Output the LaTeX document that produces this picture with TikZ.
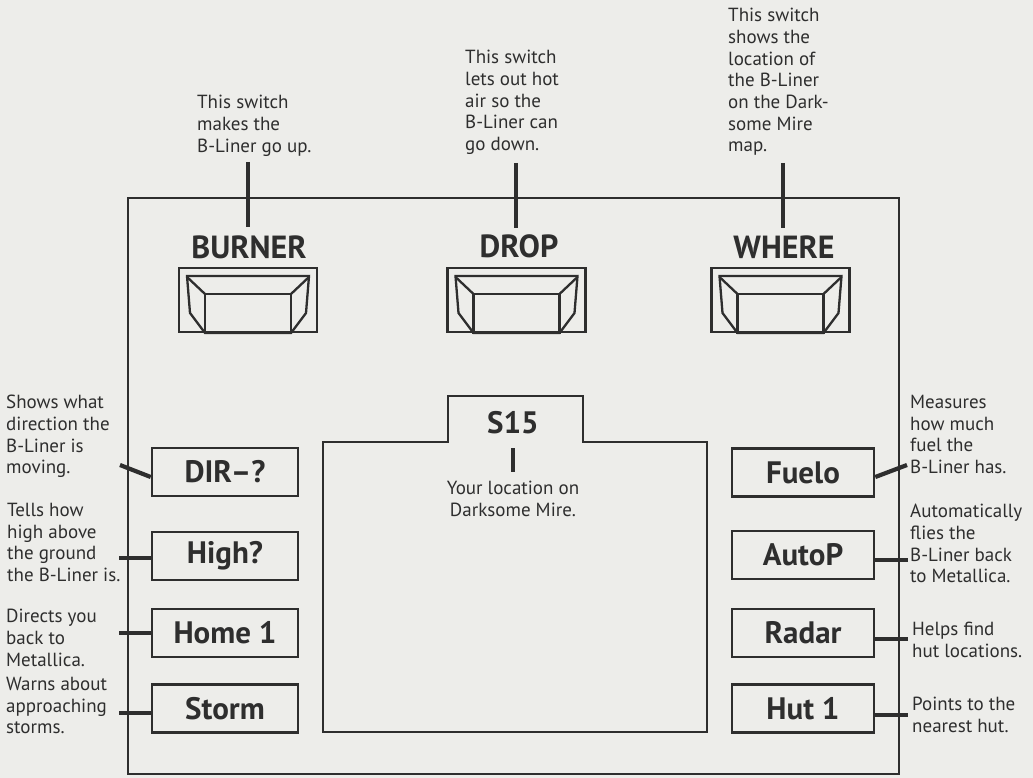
\documentclass[tikz,border=0pt]{standalone}
\usepackage{fontspec}
\setmainfont{PT Sans}
\usetikzlibrary{calc}
\definecolor{ink}{HTML}{2E2E2E}
\definecolor{paper}{HTML}{EDEDEA}
\newcommand{\drawswitch}[2]{%
  \begin{scope}[shift={(#1,268)}]
    \draw[swline] (-69,0) rectangle (69,64);
    \draw[swline] (-61,8) -- (61,8) -- (58,45) -- (43,65) -- (-43,65) -- (-58,45) -- cycle;
    \draw[swline] (-43,26) rectangle (43,65);
    \draw[swline] (-61,9) -- (-43,26);
    \draw[swline] (61,9) -- (43,26);
    \coordinate (#2) at (0,0);
  \end{scope}}
\begin{document}
\begin{tikzpicture}[x=1pt,y=-1pt,
  every node/.style={text=ink, inner sep=0pt},
  desc/.style={anchor=north west, align=left, font=\fontsize{19}{21.7}\selectfont},
  btn/.style={draw=ink, line width=2.6pt, minimum height=48pt, font=\bfseries\fontsize{31}{32}\selectfont},
  swlabel/.style={font=\bfseries\fontsize{32}{32}\selectfont},
  swline/.style={draw=ink, line width=2.3pt, line join=miter},
  conn/.style={draw=ink, line width=4.2pt},
  tick/.style={draw=ink, line width=3.8pt},
  frame/.style={draw=ink, line width=2pt}]
\fill[paper] (0,0) rectangle (1033,778);
\useasboundingbox (0,0) rectangle (1033,778);

% outer panel
\draw[frame] (128,198) rectangle (899,774);

% top switches
\drawswitch{248}{swA}
\drawswitch{516.5}{swB}
\drawswitch{780.5}{swC}
\node[swlabel] (burner) at (249,247) {BURNER};
\node[swlabel] (drop) at (519,246) {DROP};
\node[swlabel] (where) at (784,247) {WHERE};

\node[desc] (tburner) at (197,95) {This switch\\makes the\\B-Liner go up.};
\node[desc] (tdrop) at (465,50) {This switch\\lets out hot\\air so the\\B-Liner can\\go down.};
\node[desc] (twhere) at (728,8) {This switch\\shows the\\location of\\the B-Liner\\on the Dark-\\some Mire\\map.};

\coordinate (ta1) at (248,162); \coordinate (ta2) at (248,227);
\coordinate (tb1) at (516,163); \coordinate (tb2) at (516,228);
\coordinate (tc1) at (783,163); \coordinate (tc2) at (783,228);
\draw[tick] (ta1) -- (ta2);
\draw[tick] (tb1) -- (tb2);
\draw[tick] (tc1) -- (tc2);

% central screen
\draw[ink, line width=2.4pt, line join=miter] (323,442) -- (448,442) -- (448,396) -- (583,396) -- (583,442) -- (707,442) -- (707,732) -- (323,732) -- cycle;
\node[font=\bfseries\fontsize{31}{32}\selectfont] (s15) at (513,423) {S15};
\coordinate (sa) at (513,448); \coordinate (sb) at (513,472);
\draw[tick] (sa) -- (sb);
\node[anchor=north, align=center, font=\fontsize{19}{21.7}\selectfont] (loc) at (513,481) {Your location on\\Darksome Mire.};

% left buttons
\node[btn, minimum width=146pt] (dir) at (225,472) {DIR–?};
\node[btn, minimum width=146pt] (high) at (225,556) {High?};
\node[btn, minimum width=146pt] (home) at (225,633) {Home 1};
\node[btn, minimum width=146pt] (storm) at (225,708.5) {Storm};

% right buttons
\node[btn, minimum width=142pt] (fuel) at (803,472.5) {Fuelo};
\node[btn, minimum width=142pt] (auto) at (803,555) {AutoP};
\node[btn, minimum width=142pt] (radar) at (803,633) {Radar};
\node[btn, minimum width=142pt] (hut) at (803,708.5) {Hut 1};

% left descriptions
\node[desc] (ldir) at (6,395) {Shows what\\direction the\\B-Liner is\\moving.};
\node[desc] (lhigh) at (7,503) {Tells how\\high above\\the ground\\the B-Liner is.};
\node[desc] (lhome) at (6,609) {Directs you\\back to\\Metallica.};
\node[desc] (lstorm) at (6,677) {Warns about\\approaching\\storms.};

% right descriptions
\node[desc] (rfuel) at (910,395) {Measures\\how much\\fuel the\\B-Liner has.};
\node[desc] (rauto) at (910,504) {Automatically\\flies the\\B-Liner back\\to Metallica.};
\node[desc] (rradar) at (912,622) {Helps find\\hut locations.};
\node[desc] (rhut) at (912,697) {Points to the\\nearest hut.};

% connectors left
\coordinate (cdir) at (120,465);
\draw[conn] (cdir) -- ([yshift=-5pt]dir.west);
\draw[conn] ([yshift=-2pt]high.west) -- ++(-32,0);
\draw[conn] (home.west) -- ++(-32,0);
\draw[conn] ([yshift=-4.5pt]storm.west) -- ++(-32,0);

% connectors right
\coordinate (cfuel) at (907,465);
\draw[conn] ([yshift=-4.5pt]fuel.east) -- (cfuel);
\draw[conn] ([yshift=-5pt]auto.east) -- ++(33,0);
\draw[conn] ([yshift=-6pt]radar.east) -- ++(33,0);
\draw[conn] ([yshift=-6.5pt]hut.east) -- ++(33,0);
\end{tikzpicture}
\end{document}
